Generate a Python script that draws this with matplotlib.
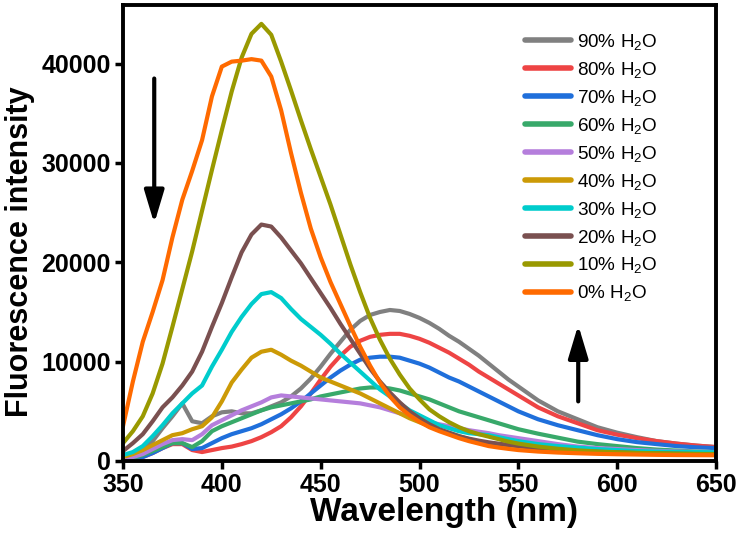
import matplotlib
matplotlib.use("Agg")
import matplotlib.pyplot as plt
from matplotlib.patches import ArrowStyle

plt.rcParams['font.family'] = ['Liberation Sans', 'DejaVu Sans']
plt.rcParams['mathtext.fontset'] = 'custom'
plt.rcParams['mathtext.rm'] = 'Liberation Sans'
plt.rcParams['mathtext.it'] = 'Liberation Sans:italic'
plt.rcParams['mathtext.bf'] = 'Liberation Sans:bold'
plt.rcParams['mathtext.default'] = 'regular'

wavelength = [350, 355, 360, 365, 370, 375, 380, 385, 390, 395, 400, 405, 410, 415, 420,
              425, 430, 435, 440, 445, 450, 455, 460, 465, 470, 475, 480, 485, 490, 495,
              500, 505, 510, 515, 520, 525, 530, 535, 540, 545, 550, 560, 570, 580, 590,
              600, 610, 620, 630, 640, 650]

h2o_90 = [300, 600, 1100, 2000, 3300, 4500, 5800, 4000, 3800, 4500, 4900, 5000, 4800, 4800, 5100,
          5500, 5900, 6500, 7300, 8300, 9500, 10800, 12000, 13200, 14100, 14700, 15000, 15200, 15100, 14800,
          14400, 13900, 13300, 12600, 12000, 11300, 10600, 9800, 9000, 8200, 7500, 6100, 5000, 4200, 3400,
          2850, 2400, 2000, 1750, 1550, 1400]
h2o_80 = [100, 200, 400, 800, 1300, 1700, 1700, 1100, 900, 1100, 1300, 1450, 1700, 2000, 2400,
          2900, 3500, 4400, 5500, 6800, 8200, 9500, 10600, 11500, 12100, 12500, 12700, 12800, 12800, 12600,
          12300, 11900, 11400, 10900, 10300, 9700, 9000, 8400, 7800, 7200, 6600, 5400, 4500, 3800, 3100,
          2650, 2300, 2000, 1750, 1550, 1400]
h2o_70 = [100, 200, 400, 800, 1300, 1800, 1800, 1200, 1300, 1800, 2300, 2700, 3000, 3300, 3700,
          4200, 4700, 5300, 6000, 6800, 7600, 8400, 9100, 9700, 10200, 10400, 10500, 10500, 10400, 10100,
          9800, 9400, 8900, 8400, 8000, 7500, 7000, 6500, 6000, 5500, 5000, 4200, 3600, 3100, 2600,
          2200, 1900, 1700, 1500, 1380, 1300]
h2o_60 = [150, 300, 600, 1000, 1400, 1800, 1800, 1400, 2000, 3000, 3500, 3900, 4300, 4700, 5100,
          5400, 5600, 5800, 6000, 6200, 6500, 6700, 6900, 7100, 7300, 7400, 7400, 7300, 7100, 6800,
          6500, 6200, 5800, 5400, 5000, 4700, 4400, 4100, 3800, 3500, 3200, 2750, 2350, 1950, 1700,
          1500, 1300, 1150, 1050, 950, 900]
h2o_50 = [200, 400, 700, 1200, 1700, 2100, 2200, 2100, 2700, 3600, 4100, 4600, 5100, 5500, 5900,
          6400, 6600, 6500, 6400, 6300, 6200, 6100, 6000, 5900, 5800, 5600, 5400, 5100, 4800, 4500,
          4200, 3900, 3700, 3500, 3300, 3100, 2950, 2800, 2600, 2450, 2300, 2000, 1700, 1450, 1300,
          1200, 1100, 1020, 960, 920, 900]
h2o_40 = [400, 700, 1100, 1600, 2100, 2600, 2800, 3200, 3500, 4400, 6000, 7900, 9200, 10400, 11000,
          11200, 10700, 10100, 9600, 9000, 8400, 8000, 7600, 7200, 6800, 6300, 5800, 5300, 4800, 4300,
          3900, 3500, 3100, 2800, 2500, 2200, 1950, 1800, 1700, 1600, 1500, 1300, 1150, 1000, 930,
          880, 820, 780, 750, 720, 700]
h2o_30 = [600, 900, 1500, 2500, 3600, 4800, 5800, 6800, 7600, 9500, 11200, 13000, 14500, 15800, 16800,
          17000, 16400, 15300, 14300, 13500, 12700, 11800, 10800, 9900, 9000, 8100, 7200, 6500, 5800, 5100,
          4600, 4100, 3600, 3300, 3000, 2800, 2700, 2600, 2400, 2200, 2000, 1700, 1500, 1350, 1200,
          1100, 1000, 950, 920, 900, 880]
h2o_20 = [1000, 1800, 2700, 4000, 5400, 6400, 7600, 9000, 11000, 13500, 15900, 18500, 21000, 22800, 23800,
          23600, 22500, 21200, 19900, 18400, 16900, 15400, 13800, 12300, 10800, 9300, 8000, 6900, 5900, 5000,
          4300, 3700, 3200, 2850, 2500, 2250, 2050, 1880, 1740, 1620, 1500, 1300, 1150, 1000, 920,
          860, 800, 760, 730, 700, 680]
h2o_10 = [1800, 3000, 4500, 6800, 9800, 13500, 17300, 21100, 25200, 29300, 33300, 37200, 40600, 43000, 44000,
          42900, 40200, 37300, 34300, 31400, 28600, 25800, 22800, 19800, 17000, 14400, 12200, 10300, 8700, 7300,
          6200, 5200, 4500, 3900, 3400, 3000, 2700, 2450, 2200, 1950, 1750, 1450, 1230, 1070, 960,
          880, 820, 780, 740, 720, 700]
h2o_0 = [3500, 8000, 12000, 15000, 18200, 22500, 26300, 29200, 32300, 36700, 39700, 40200, 40300, 40450, 40300,
         38700, 35300, 31000, 27000, 23400, 20500, 18000, 15800, 13600, 11500, 9600, 7900, 6500, 5400, 4600,
         3950, 3400, 3000, 2650, 2300, 2000, 1750, 1500, 1350, 1220, 1100, 950, 850, 780, 720,
         680, 650, 620, 600, 590, 580]

series = [h2o_90, h2o_80, h2o_70, h2o_60, h2o_50, h2o_40, h2o_30, h2o_20, h2o_10, h2o_0]
labels = ['90% H$_2$O', '80% H$_2$O', '70% H$_2$O', '60% H$_2$O', '50% H$_2$O',
          '40% H$_2$O', '30% H$_2$O', '20% H$_2$O', '10% H$_2$O', '0% H$_2$O']
colors = ['#808080', '#EE4444', '#1F6FDB', '#38A96A', '#B57EDC',
          '#CC9A06', '#00CCCC', '#7A5050', '#999900', '#FF6A00']

x_ticks = [350, 400, 450, 500, 550, 600, 650]
y_ticks = [0, 10000, 20000, 30000, 40000]

fig = plt.figure(figsize=(7.4, 5.36), dpi=100)
ax = fig.add_axes([123/740, 1-461/536, (716-123)/740, (461-5)/536])

for ys, lab, c in zip(series, labels, colors):
    ax.plot(wavelength, ys, color=c, lw=3.0, label=lab, solid_capstyle='round', solid_joinstyle='round')

ax.set_xlim(350, 650)
ax.set_ylim(0, 45900)
ax.set_xticks(x_ticks)
ax.set_yticks(y_ticks)
ax.tick_params(direction='out', length=6, width=2.5, labelsize=18, pad=3)
for lbl in ax.get_xticklabels() + ax.get_yticklabels():
    lbl.set_fontweight('bold')
for sp in ax.spines.values():
    sp.set_linewidth(2.8)

ax.set_xlabel('Wavelength (nm)', fontsize=24, fontweight='bold', labelpad=0)
ax.set_ylabel('Fluorescence intensity', fontsize=22, fontweight='bold', labelpad=4)
ax.xaxis.set_label_coords(0.541, -0.079, transform=ax.transAxes)
ax.yaxis.label.set_va('bottom')
ax.yaxis.set_label_coords(-0.149, 0.46, transform=ax.transAxes)

leg = ax.legend(loc='upper left', bbox_to_anchor=(525/740, 1-32/536),
                bbox_transform=fig.transFigure, frameon=False, fontsize=13.6,
                handlelength=2.45, handletextpad=0.3, labelspacing=0.42,
                borderpad=0, borderaxespad=0)
for line in leg.get_lines():
    line.set_linewidth(4)

style = ArrowStyle('-|>', head_length=2.0, head_width=0.6)
ax.annotate('', xy=(365.8, 23900), xytext=(365.8, 38500),
            arrowprops=dict(arrowstyle=style, mutation_scale=10, lw=3, color='black',
                            shrinkA=0, shrinkB=0))
ax.annotate('', xy=(580.3, 13700), xytext=(580.3, 6000),
            arrowprops=dict(arrowstyle=style, mutation_scale=10, lw=3, color='black',
                            shrinkA=0, shrinkB=0))

fig.savefig('out.png', dpi=100)
